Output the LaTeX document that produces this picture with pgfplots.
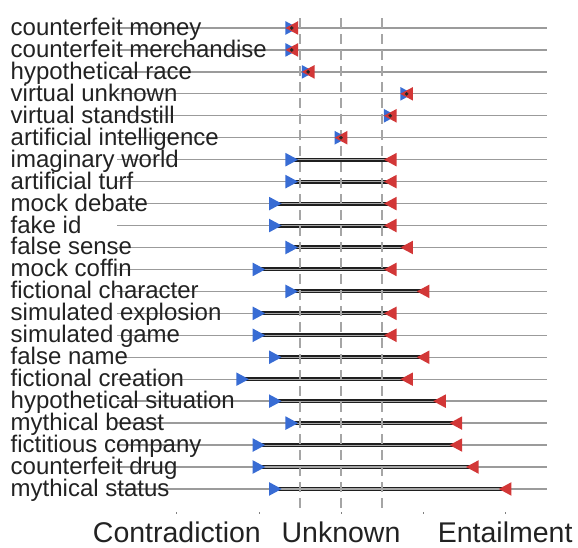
\documentclass[border=0pt]{standalone}
\usepackage{pgfplots}
\pgfplotsset{compat=1.18}
\usepackage{pgfplotstable}
\usepackage{fontspec}
\setmainfont{Liberation Sans}
\definecolor{mblue}{RGB}{56,108,212}
\definecolor{mred}{RGB}{210,55,55}
\definecolor{rowgray}{RGB}{155,155,155}
\definecolor{dashgray}{RGB}{165,165,165}
\definecolor{txt}{RGB}{34,34,34}
\pgfdeclareplotmark{rtri}{%
  \pgfpathmoveto{\pgfqpoint{-6.3pt}{-6.8pt}}%
  \pgfpathlineto{\pgfqpoint{6.3pt}{0pt}}%
  \pgfpathlineto{\pgfqpoint{-6.3pt}{6.8pt}}%
  \pgfpathclose\pgfusepathqfill}
\pgfdeclareplotmark{ltri}{%
  \pgfpathmoveto{\pgfqpoint{6.3pt}{-6.8pt}}%
  \pgfpathlineto{\pgfqpoint{-6.3pt}{0pt}}%
  \pgfpathlineto{\pgfqpoint{6.3pt}{6.8pt}}%
  \pgfpathclose\pgfusepathqfill}
\pgfplotstableread{
row lo hi
1 -1.2 -1.2
2 -1.2 -1.2
3 -0.8 -0.8
4 1.6 1.6
5 1.2 1.2
6 0 0
7 -1.2 1.2
8 -1.2 1.2
9 -1.6 1.2
10 -1.6 1.2
11 -1.2 1.6
12 -2.0 1.2
13 -1.2 2.0
14 -2.0 1.2
15 -2.0 1.2
16 -1.6 2.0
17 -2.4 1.6
18 -1.6 2.4
19 -1.2 2.8
20 -2.0 2.8
21 -2.0 3.2
22 -1.6 4.0
}\data
\begin{document}
\begin{tikzpicture}
\useasboundingbox (0,0) rectangle (578pt,548pt);
\begin{axis}[
  at={(117pt,36pt)}, anchor=south west,
  scale only axis, width=430pt, height=493.9pt,
  xmin=-5.46, xmax=5.02, ymin=0.55, ymax=23.05,
  y dir=reverse,
  axis line style={draw=none},
  xtick pos=bottom,
  xtick={-4,0,4},
  xticklabels={Contradiction,Unknown,Entailment},
  extra x ticks={-2,2},
  extra x tick labels={},
  major tick length=1.5pt,
  tick align=outside,
  x tick style={draw=gray, line width=0.9pt},
  extra x tick style={tick style={draw=gray, line width=0.9pt}},
  ytick={1,...,22},
  y tick style={draw=none},
  yticklabels={counterfeit money,counterfeit merchandise,hypothetical race,virtual unknown,virtual standstill,artificial intelligence,imaginary world,artificial turf,mock debate,fake id,false sense,mock coffin,fictional character,simulated explosion,simulated game,false name,fictional creation,hypothetical situation,mythical beast,fictitious company,counterfeit drug,mythical status},
  yticklabel style={anchor=base west, inner sep=0pt, xshift=-105pt, yshift=-7.5pt, font=\fontsize{24}{24}\selectfont, text=txt},
  xticklabel style={anchor=base, inner sep=0pt, text depth=0pt, yshift=-29pt, font=\fontsize{28.5}{30}\selectfont, text=txt},
  ymajorgrids=true,
  grid style={draw=rowgray, line width=1.3pt},
  clip=false,
]
% intervals
\addplot[only marks, mark=none, error bars/.cd, x dir=plus, x explicit, error mark=none,
  error bar style={solid, draw=black!88, line width=4pt, line cap=round}]
  table[x=lo, y=row, x error expr=\thisrow{hi}-\thisrow{lo}] {\data};
\addplot[only marks, mark=none, error bars/.cd, x dir=plus, x explicit, error mark=none,
  error bar style={solid, draw=gray!70, line width=1.1pt}]
  table[x=lo, y=row, x error expr=\thisrow{hi}-\thisrow{lo}] {\data};
% dashed reference lines
\addplot[dashgray, line width=1.3pt, dash pattern=on 10pt off 6pt] coordinates {(-1,0.55) (-1,23.05)};
\addplot[dashgray, line width=1.3pt, dash pattern=on 10pt off 6pt] coordinates {(0,0.55) (0,23.05)};
\addplot[dashgray, line width=1.3pt, dash pattern=on 10pt off 6pt] coordinates {(1,0.55) (1,23.05)};
% markers
\addplot[only marks, mark=rtri, color=mblue] table[x=lo, y=row] {\data};
\addplot[only marks, mark=ltri, color=mred] table[x=hi, y=row] {\data};
% center dots for point rows
\addplot[only marks, mark=*, mark size=1.6pt, color=black!85] table[x=lo, y=row, restrict expr to domain={\thisrow{row}}{1:6}] {\data};
\end{axis}
\end{tikzpicture}
\end{document}
